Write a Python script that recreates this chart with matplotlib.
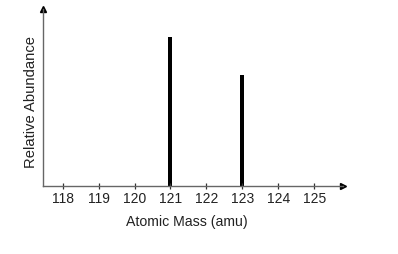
import matplotlib
matplotlib.use("Agg")
import matplotlib.pyplot as plt

# isotopes of antimony (approx.)
masses = [121, 123]
abundance = [57.2, 42.8]
tick_masses = [118, 119, 120, 121, 122, 123, 124, 125]

plt.rcParams['font.family'] = ['Liberation Sans', 'DejaVu Sans']

fig = plt.figure(figsize=(3.98, 2.54), dpi=100)
ax = fig.add_axes([42.5 / 398, (254 - 185.5) / 254, (343 - 42.5) / 398, (185.5 - 9) / 254])

ax.bar(masses, abundance, width=0.11, color='black')

ax.set_xlim(117.44, 125.8)
ax.set_ylim(0, 68.2)

for s in ['top', 'right']:
    ax.spines[s].set_visible(False)
for s in ['left', 'bottom']:
    ax.spines[s].set_color('#666666')
    ax.spines[s].set_linewidth(1.0)

ax.set_xticks(tick_masses)
ax.set_xticklabels([str(m) for m in tick_masses], fontsize=10, color='#222222')
ax.set_yticks([])
ax.tick_params(axis='x', direction='inout', length=5, width=0.9, color='#333333', pad=2)

# arrow heads on axes
ax.plot(1, 0, '>', color='black', markersize=5, transform=ax.transAxes, clip_on=False)
ax.plot(0, 1, '^', color='black', markersize=5, transform=ax.transAxes, clip_on=False)

ax.set_xlabel('Atomic Mass (amu)', fontsize=10.2, color='#222222')
ax.set_ylabel('Relative Abundance', fontsize=10.6, color='#222222')
ax.xaxis.set_label_coords(0.479, -0.165)
ax.yaxis.set_label_coords(-0.015, 0.473)

fig.savefig('out.png', dpi=100)
